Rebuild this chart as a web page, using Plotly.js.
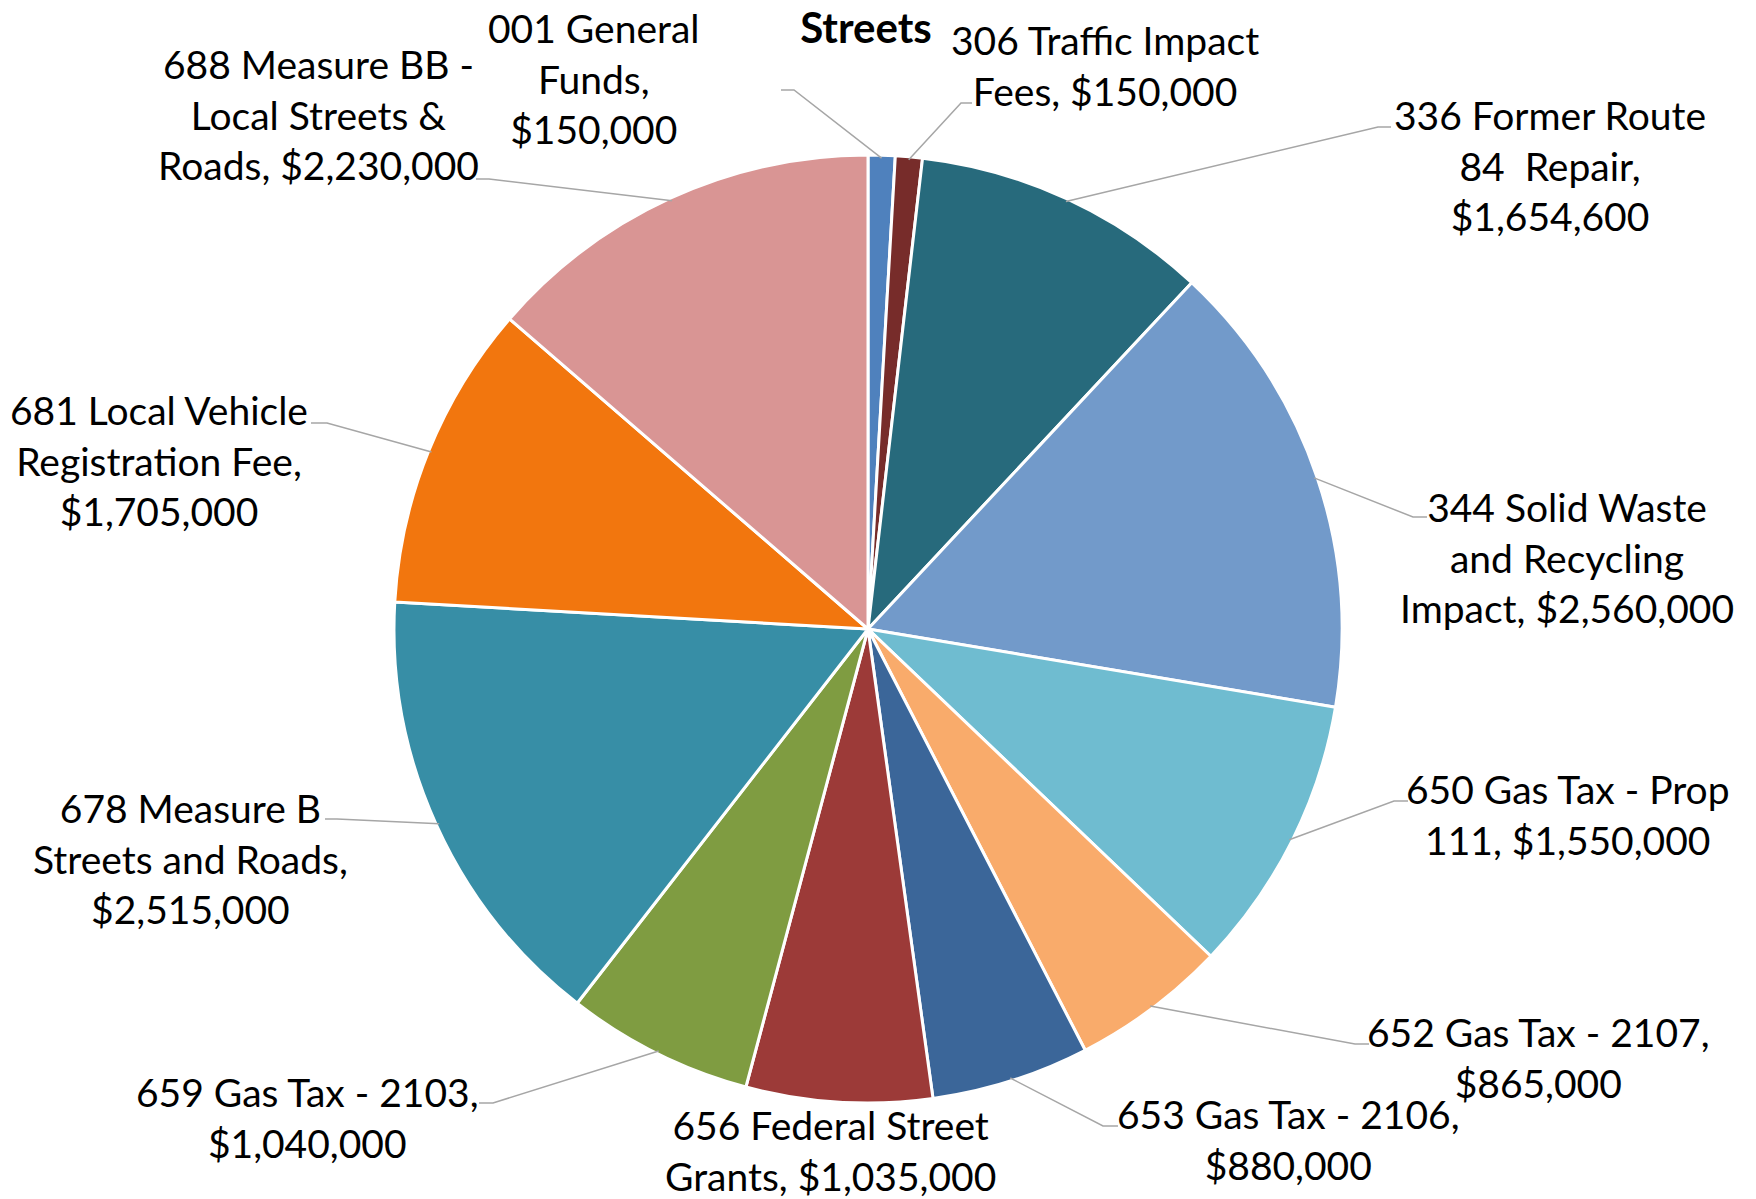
<!DOCTYPE html>
<html>
<head>
<meta charset="utf-8">
<script src="https://cdn.plot.ly/plotly-3.0.1.min.js"></script>
<style>html,body{margin:0;padding:0;background:#fff;}#chart{width:1756px;height:1199px;}</style>
</head>
<body>
<div id="chart"></div>
<script>
// ---- data ----
const categories = [
  '001 General Funds', '306 Traffic Impact Fees', '336 Former Route 84 Repair',
  '344 Solid Waste and Recycling Impact', '650 Gas Tax - Prop 111', '652 Gas Tax - 2107',
  '653 Gas Tax - 2106', '656 Federal Street Grants', '659 Gas Tax - 2103',
  '678 Measure B Streets and Roads', '681 Local Vehicle Registration Fee',
  '688 Measure BB - Local Streets & Roads'
];
const values = [150000, 150000, 1654600, 2560000, 1550000, 865000, 880000, 1035000, 1040000, 2515000, 1705000, 2230000];
const labelTemplates = [
  '001 General<br>Funds,<br>{v}',
  '306 Traffic Impact<br>Fees, {v}',
  '336 Former Route<br>84\u00a0 Repair,<br>{v}',
  '344 Solid Waste<br>and Recycling<br>Impact, {v}',
  '650 Gas Tax - Prop<br>111, {v}',
  '652 Gas Tax - 2107,<br>{v}',
  '653 Gas Tax - 2106,<br>{v}',
  '656 Federal Street<br>Grants, {v}',
  '659 Gas Tax - 2103,<br>{v}',
  '678 Measure B<br>Streets and Roads,<br>{v}',
  '681 Local Vehicle<br>Registration Fee,<br>{v}',
  '688 Measure BB -<br>Local Streets &amp;<br>Roads, {v}'
];
const colors = ['#4F81BD', '#772C2A', '#276A7C', '#729ACA', '#6FBCD0', '#F9AB6B',
                '#3B6699', '#9C3A38', '#7F9C41', '#378EA6', '#F2760E', '#D99594'];

// ---- layout configuration (pixels) ----
const W = 1756, H = 1199;
const CX = 868, CY = 629, R = 471, RDOM = 474;
// label placement: [labelCenterX, labelCenterY, elbowX, elbowY, endX] ; null elbow = no leader
const labelPos = [
  [594, 78, 794, 90, 781],
  [1105, 65, 961, 103, 972],
  [1550, 165, 1378, 127, 1391],
  [1567, 557, 1413, 517, 1427],
  [1568, 814, 1394, 801, 1408],
  [1538, 1057, 1355, 1044, 1369],
  [1288, 1139, 1103, 1126, 1118],
  [830, 1150, null, null, null],
  [307, 1117, 493, 1103, 479],
  [190, 858, 337, 819, 325],
  [159, 461, 327, 423, 311],
  [318, 115, 489, 179, 476]
];

const fmt = v => '$' + v.toLocaleString('en-US');
const px = x => x / W;
const py = y => 1 - y / H;

const total = values.reduce((a, b) => a + b, 0);
let cum = 0;
const annotations = [];
const shapes = [];
values.forEach((v, i) => {
  const mid = (cum + v / 2) / total * 2 * Math.PI;
  cum += v;
  const ax = CX + R * Math.sin(mid);
  const ay = CY - R * Math.cos(mid);
  const p = labelPos[i];
  annotations.push({
    xref: 'paper', yref: 'paper', x: px(p[0]), y: py(p[1]),
    xanchor: 'center', yanchor: 'middle', align: 'center', showarrow: false,
    text: labelTemplates[i].replace('{v}', fmt(v)),
    font: {family: 'Lato, sans-serif', size: 39, color: '#000'}
  });
  if (p[2] !== null) {
    shapes.push({
      type: 'path', xref: 'paper', yref: 'paper',
      path: `M ${px(ax)} ${py(ay)} L ${px(p[2])} ${py(p[3])} L ${px(p[4])} ${py(p[3])}`,
      line: {color: '#A6A6A6', width: 1.5}
    });
  }
});

const trace = {
  type: 'pie',
  labels: categories,
  values: values,
  sort: false,
  direction: 'clockwise',
  rotation: 0,
  textinfo: 'none',
  hoverinfo: 'label+value',
  marker: {colors: colors, line: {color: '#FFFFFF', width: 3}},
  domain: {x: [px(CX - RDOM), px(CX + RDOM)], y: [py(CY + RDOM), py(CY - RDOM)]}
};

const layout = {
  width: W, height: H,
  margin: {l: 0, r: 0, t: 0, b: 0},
  paper_bgcolor: '#FFFFFF',
  showlegend: false,
  title: {
    text: '<b>Streets</b>', x: px(866), y: py(28), xanchor: 'center', yanchor: 'middle',
    font: {family: 'Lato, sans-serif', size: 42, color: '#000'}
  },
  annotations: annotations,
  shapes: shapes
};

Plotly.newPlot('chart', [trace], layout, {displayModeBar: false, staticPlot: true});
</script>
</body>
</html>
